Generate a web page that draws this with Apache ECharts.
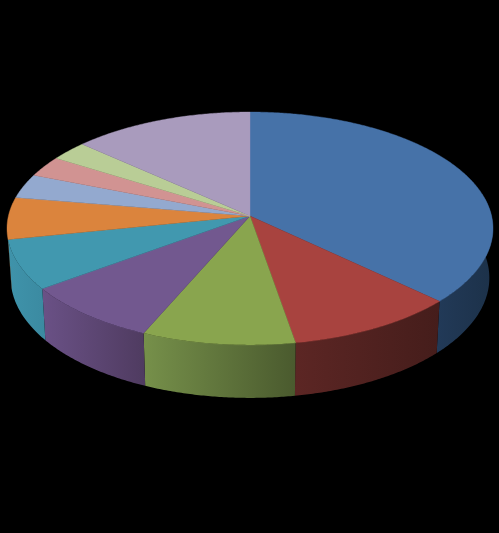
<!DOCTYPE html>
<html>
<head>
<meta charset="utf-8">
<style>html,body{margin:0;padding:0;background:#000;}#c{width:499px;height:533px;}</style>
<script src="https://cdn.jsdelivr.net/npm/echarts@6/dist/echarts.min.js"></script>
</head>
<body>
<div id="c"></div>
<script>
var categories = ['A','B','C','D','E','F','G','H','I','J'];
var values = [37.05,10.25,9.2,8.4,6.9,5.8,3.4,2.9,2.75,13.35];
var topColors = ['#4672a8','#a8433f','#89a54e','#72588f','#4198af','#db843d','#93a9cf','#d19392','#b9cd96','#a99bbd'];
var wallLeft = ['#223a58','#5c2624','#76904a','#6a5186','#3f93aa','#db843d','#93a9cf','#d19392','#b9cd96','#a99bbd'];
var wallRight = ['#1c3149','#451d1b','#4a5a2e','#4f3b60','#3b8aa1','#db843d','#93a9cf','#d19392','#b9cd96','#a99bbd'];

var CX = 250, CY = 216, R = 241.6, K = 115.1, P = 0.107;
var BASE_SCALE = 0.985, BASE_DROP = 49, BASE_DROP_V = 4;
var WALL_FROM = 80, WALL_TO = 259;
var total = values.reduce(function (a, b) { return a + b; }, 0);
var cum = [0];
values.forEach(function (v, i) { cum.push(cum[i] + v); });

function rim(deg, base) {
  var a = deg * Math.PI / 180, u = Math.sin(a), v = -Math.cos(a);
  var s = 1 / (1 - P * v);
  var x = R * u * s, y = K * v * s;
  if (base) return [CX + x * BASE_SCALE, CY + y + BASE_DROP + BASE_DROP_V * v];
  return [CX + x, CY + y];
}
function arc(from, to, base) {
  var pts = [], n = Math.max(2, Math.ceil((to - from) * 2));
  for (var i = 0; i <= n; i++) pts.push(rim(from + (to - from) * i / n, base));
  return pts;
}
function sliceAngles(i) {
  return [cum[i] / total * 360, cum[i + 1] / total * 360];
}
var data = values.map(function (v, i) { return { name: categories[i], value: [i, v] }; });

var chart = echarts.init(document.getElementById('c'), null, { renderer: 'canvas' });
chart.setOption({
  backgroundColor: '#000000',
  animation: false,
  series: [
    {
      type: 'custom', coordinateSystem: 'none', data: data, z: 1, silent: true,
      renderItem: function (params, api) {
        var i = api.value(0), r = sliceAngles(i);
        var from = Math.max(r[0], WALL_FROM), to = Math.min(r[1], WALL_TO);
        if (to <= from) return { type: 'group', children: [] };
        var pts = arc(from, to, false).concat(arc(from, to, true).reverse());
        var fill = new echarts.graphic.LinearGradient(0, 0, 1, 0, [
          { offset: 0, color: wallLeft[i] }, { offset: 1, color: wallRight[i] }
        ]);
        return { type: 'polygon', shape: { points: pts }, style: { fill: fill, stroke: null } };
      }
    },
    {
      type: 'custom', coordinateSystem: 'none', data: data, z: 2, silent: true,
      renderItem: function (params, api) {
        var i = api.value(0), r = sliceAngles(i);
        var pts = [[CX, CY]].concat(arc(r[0], r[1], false));
        return { type: 'polygon', shape: { points: pts }, style: { fill: topColors[i], stroke: topColors[i], lineWidth: 0.4 } };
      }
    }
  ]
});
</script>
</body>
</html>
